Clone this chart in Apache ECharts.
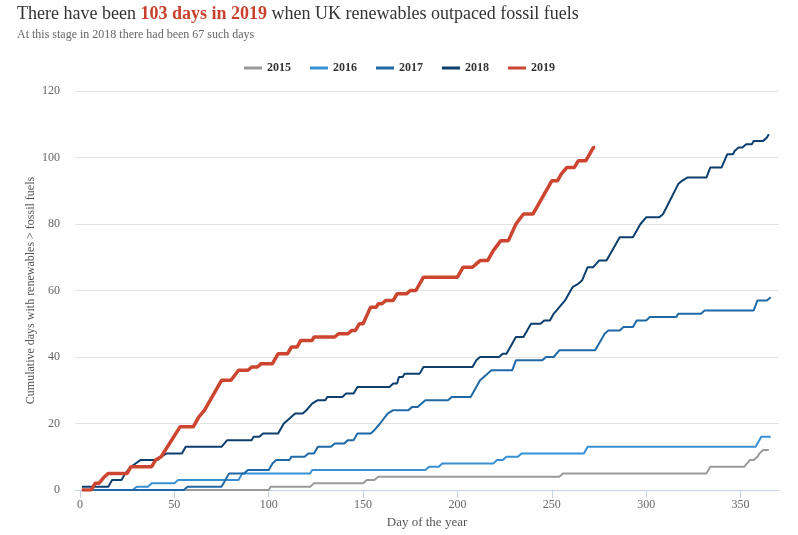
<!DOCTYPE html>
<html>
<head>
<meta charset="utf-8">
<script src="https://cdn.jsdelivr.net/npm/echarts@6/dist/echarts.min.js"></script>
<style>
  html, body { margin: 0; padding: 0; background: #fff; }
  #chart { width: 798px; height: 535px; }
</style>
</head>
<body>
<div id="chart"></div>
<script>
// cumulative days where renewables > fossil fuels, as [day, count]
var years = ['2015', '2016', '2017', '2018', '2019'];
var colors = ['#9a9a9a', '#3890d4', '#1f69a6', '#0d3f6e', '#cc4530'];
var xTicks = [0, 50, 100, 150, 200, 250, 300, 350];

var d2015 = [[1,0],[100,0],[101,1],[122,1],[124,2],[150,2],[152,3],[156,3],[158,4],[254,4],[256,5],[332,5],[334,7],[352,7],[355,9],[357,9],[359,10],[360,11],[362,12],[365,12]];
var d2016 = [[1,0],[28,0],[30,1],[36,1],[38,2],[50,2],[52,3],[84,3],[86,5],[122,5],[123,6],[183,6],[185,7],[190,7],[192,8],[219,8],[221,9],[224,9],[226,10],[232,10],[234,11],[267,11],[269,13],[358,13],[361,16],[366,16]];
var d2017 = [[1,0],[55,0],[57,1],[75,1],[79,5],[87,5],[89,6],[100,6],[102,8],[104,9],[111,9],[112,10],[119,10],[121,11],[124,11],[126,13],[133,13],[135,14],[140,14],[142,15],[145,15],[147,17],[154,17],[156,18],[157,18],[159,20],[160,20],[163,23],[164,23],[166,24],[174,24],[176,25],[179,25],[181,26],[183,27],[195,27],[197,28],[207,28],[212,33],[214,34],[218,36],[229,36],[231,39],[245,39],[247,40],[251,40],[254,42],[273,42],[278,47],[280,48],[286,48],[288,49],[293,49],[295,51],[300,51],[302,52],[316,52],[317,53],[329,53],[331,54],[357,54],[359,57],[364,57],[366,58]];
var d2018 = [[1,1],[15,1],[17,3],[22,3],[24,5],[27,7],[32,9],[41,9],[43,10],[46,11],[54,11],[56,13],[75,13],[78,15],[91,15],[92,16],[95,16],[97,17],[105,17],[108,20],[110,21],[114,23],[118,23],[120,24],[123,26],[126,27],[130,27],[131,28],[139,28],[141,29],[145,29],[147,31],[164,31],[166,32],[168,32],[169,34],[171,34],[172,35],[180,35],[182,37],[208,37],[210,39],[212,40],[222,40],[224,41],[226,41],[231,46],[235,46],[239,50],[244,50],[246,51],[249,51],[251,53],[254,55],[257,57],[261,61],[264,62],[266,63],[269,67],[272,67],[275,69],[279,69],[286,76],[293,76],[297,80],[300,82],[307,82],[309,83],[317,92],[319,93],[322,94],[332,94],[334,97],[340,97],[343,101],[346,101],[347,102],[349,103],[351,103],[353,104],[356,104],[357,105],[362,105],[364,106],[365,107]];
var d2019 = [[1,0],[6,0],[8,2],[10,2],[13,4],[15,5],[25,5],[27,7],[38,7],[40,9],[43,10],[53,19],[60,19],[63,22],[66,24],[75,33],[80,33],[84,36],[89,36],[91,37],[94,37],[96,38],[102,38],[105,41],[110,41],[112,43],[115,43],[117,45],[123,45],[124,46],[135,46],[137,47],[142,47],[144,48],[146,48],[148,50],[150,50],[154,55],[157,55],[158,56],[160,56],[162,57],[166,57],[168,59],[173,59],[175,60],[178,60],[182,64],[200,64],[203,67],[208,67],[210,68],[212,69],[216,69],[219,72],[223,75],[227,75],[231,80],[235,83],[240,83],[250,93],[253,93],[255,95],[258,97],[262,97],[264,99],[268,99],[272,103],[273,103]];

var allData = [d2015, d2016, d2017, d2018, d2019];
var serif = '"Liberation Serif", "DejaVu Serif", serif';

var option = {
	animation: false,
	textStyle: { fontFamily: serif },
	title: {
		left: 12,
		top: 0,
		itemGap: 6,
		text: '{a|There have been }{b|103 days in 2019}{a| when UK renewables outpaced fossil fuels}',
		textStyle: {
			fontWeight: 'normal',
			rich: {
				a: { fontFamily: serif, fontSize: 18, fontWeight: 'normal', color: '#333' },
				b: { fontFamily: serif, fontSize: 18, fontWeight: 'bold', color: '#c8412d' }
			}
		},
		subtext: 'At this stage in 2018 there had been 67 such days',
		subtextStyle: { fontFamily: serif, fontSize: 12, color: '#666' }
	},
	legend: {
		left: 239,
		top: 57,
		icon: 'rect',
		itemWidth: 18,
		itemHeight: 3,
		itemGap: 19,
		textStyle: { fontFamily: serif, fontSize: 12, fontWeight: 'bold', color: '#333' },
		data: years
	},
	grid: {
		left: 75,
		right: 19,
		top: 91,
		bottom: 45
	},
	xAxis: {
		type: 'value',
		min: -2.65,
		max: 370.4,
		name: 'Day of the year',
		nameLocation: 'middle',
		nameGap: 26,
		nameMoveOverlap: false,
		nameTextStyle: { fontFamily: serif, fontSize: 13, color: '#555' },
		axisLine: { lineStyle: { color: '#c5d3e6' } },
		axisTick: { show: true, length: 8, customValues: xTicks, lineStyle: { color: '#c5d3e6' } },
		axisLabel: { customValues: xTicks, margin: 9, fontFamily: serif, fontSize: 12, color: '#666' },
		splitLine: { show: false }
	},
	yAxis: {
		type: 'value',
		min: 0,
		max: 120,
		interval: 20,
		name: 'Cumulative days with renewables > fossil fuels',
		nameLocation: 'middle',
		nameGap: 38,
		nameMoveOverlap: false,
		nameTextStyle: { fontFamily: serif, fontSize: 12, color: '#555' },
		axisLine: { show: false },
		axisTick: { show: false },
		axisLabel: { margin: 15, fontFamily: serif, fontSize: 12, color: '#666' },
		splitLine: { lineStyle: { color: '#e3e3e3' } }
	},
	series: years.map(function(y, i) {
		return {
			name: y,
			type: 'line',
			data: allData[i],
			showSymbol: false,
			smooth: false,
			color: colors[i],
			z: 2 + i,
			lineStyle: { width: y === '2019' ? 3.5 : 2, color: colors[i] }
		};
	})
};

var myChart = echarts.init(document.getElementById('chart'));
myChart.setOption(option);
</script>
</body>
</html>
